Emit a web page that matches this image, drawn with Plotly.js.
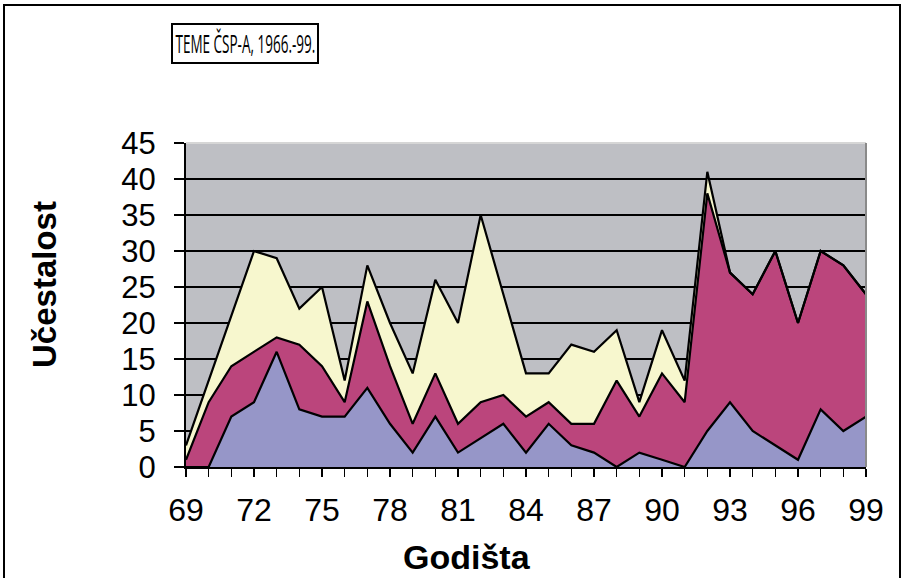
<!DOCTYPE html>
<html>
<head>
<meta charset="utf-8">
<script src="https://cdn.plot.ly/plotly-3.0.1.min.js"></script>
<style>
html, body { margin: 0; padding: 0; background: #ffffff; }
#wrap { position: relative; width: 904px; height: 578px; overflow: hidden; }
#chart { position: absolute; left: 0; top: 0; width: 904px; height: 578px; }
#frame { position: absolute; left: 3px; top: 4px; width: 894px; height: 590px; border: 2px solid #000; pointer-events: none; }
</style>
</head>
<body>
<div id="wrap">
<div id="chart"></div>
<div id="frame"></div>
</div>
<script>
// Years (Godišta), 1969–1999
const years = [69,70,71,72,73,74,75,76,77,78,79,80,81,82,83,84,85,86,87,88,89,90,91,92,93,94,95,96,97,98,99];
// Bottom series (blue)
const seriesA = [0,0,7,9,16,8,7,7,11,6,2,7,2,4,6,2,6,3,2,0,2,1,0,5,9,5,3,1,8,5,7];
// Middle series (magenta)
const seriesB = [1,9,7,7,2,9,7,2,12,8,4,6,4,5,4,5,3,3,4,12,5,12,9,33,18,19,27,19,22,23,17];
// Top series (light yellow)
const seriesC = [2,3,7,14,11,5,11,3,5,6,7,13,14,26,14,6,4,11,10,7,2,6,3,3,0,0,0,0,0,0,0];
const yTicks = [0,5,10,15,20,25,30,35,40,45];
const xLabelStep = 3;

const tickText = years.map(y => (y - years[0]) % xLabelStep === 0 ? String(y) : '');

const lineStyle = { color: '#000000', width: 2.2, shape: 'linear' };
const traces = [
  { x: years, y: seriesA, type: 'scatter', mode: 'lines', stackgroup: 'one', name: 'A',
    line: lineStyle, fillcolor: '#9696c8', hoverinfo: 'skip' },
  { x: years, y: seriesB, type: 'scatter', mode: 'lines', stackgroup: 'one', name: 'B',
    line: lineStyle, fillcolor: '#bb457c', hoverinfo: 'skip' },
  { x: years, y: seriesC, type: 'scatter', mode: 'lines', stackgroup: 'one', name: 'C',
    line: lineStyle, fillcolor: '#f7f7ce', hoverinfo: 'skip' }
];

const L = 186, R = 866, T = 143, B = 467;
const pw = R - L, ph = B - T;
const px = v => (v - L) / pw;
const py = v => (B - v) / ph;

const layout = {
  width: 904, height: 578,
  margin: { l: L, r: 904 - R, t: T, b: 578 - B, pad: 0 },
  paper_bgcolor: '#ffffff',
  plot_bgcolor: '#bebfc4',
  showlegend: false,
  font: { family: 'Arial, "Liberation Sans", sans-serif', color: '#000000' },
  xaxis: {
    range: [years[0], years[years.length - 1]],
    tickmode: 'array', tickvals: years, ticktext: tickText,
    ticks: 'outside', ticklen: 8, tickwidth: 1.5, tickcolor: '#000',
    showline: true, linecolor: '#000', linewidth: 2,
    showgrid: false, zeroline: false,
    tickfont: { family: 'Arial, "Liberation Sans", sans-serif', size: 32, color: '#000' },
    ticklabelstandoff: 6,
    fixedrange: true
  },
  yaxis: {
    range: [0, 45],
    tickmode: 'array', tickvals: yTicks,
    ticks: 'outside', ticklen: 10, tickwidth: 1.5, tickcolor: '#000',
    showline: true, linecolor: '#000', linewidth: 2,
    showgrid: true, gridcolor: '#000', gridwidth: 1.5,
    zeroline: false,
    tickfont: { family: 'Arial, "Liberation Sans", sans-serif', size: 31, color: '#000' },
    ticklabelstandoff: 12,
    fixedrange: true
  },
  shapes: [
    { type: 'line', xref: 'paper', yref: 'paper', x0: 0, x1: 1, y0: 1, y1: 1,
      line: { color: '#d6d6d6', width: 2 } },
    { type: 'line', xref: 'paper', yref: 'paper', x0: 1, x1: 1, y0: 0, y1: 1,
      line: { color: '#8a8a8a', width: 2 } },
    { type: 'rect', xref: 'paper', yref: 'paper', layer: 'below',
      x0: px(172), x1: px(318), y0: py(63), y1: py(24),
      line: { color: '#000', width: 2 }, fillcolor: '#ffffff' }
  ],
  annotations: [
    { text: 'TEME ČSP-A, 1966.-99.', xref: 'paper', yref: 'paper',
      x: px(245), y: py(43), xanchor: 'center', yanchor: 'middle', showarrow: false,
      font: { family: '"Open Sans", "Noto Sans", sans-serif', size: 25, color: '#000' } },
    { text: '<b>Godišta</b>', xref: 'paper', yref: 'paper',
      x: px(467), y: py(557), xanchor: 'center', yanchor: 'middle', showarrow: false,
      font: { family: 'Arial, "Liberation Sans", sans-serif', size: 34, color: '#000' } },
    { text: '<b>Učestalost</b>', xref: 'paper', yref: 'paper',
      x: px(44), y: py(285), xanchor: 'center', yanchor: 'middle', showarrow: false,
      textangle: -90,
      font: { family: 'Arial, "Liberation Sans", sans-serif', size: 33, color: '#000' } }
  ]
};

Plotly.newPlot('chart', traces, layout, { displayModeBar: false, staticPlot: true }).then(gd => {
  // condense the boxed title horizontally so it fits its frame like the original
  const t = gd.querySelector('.annotation[data-index="0"] .annotation-text');
  if (t) {
    const bb = t.getBBox();
    const target = 140;
    if (bb.width > target) {
      const s = target / bb.width;
      const cx = bb.x + bb.width / 2;
      t.setAttribute('transform', `translate(${cx},0) scale(${s},1) translate(${-cx},0)`);
    }
  }
});
</script>
</body>
</html>
